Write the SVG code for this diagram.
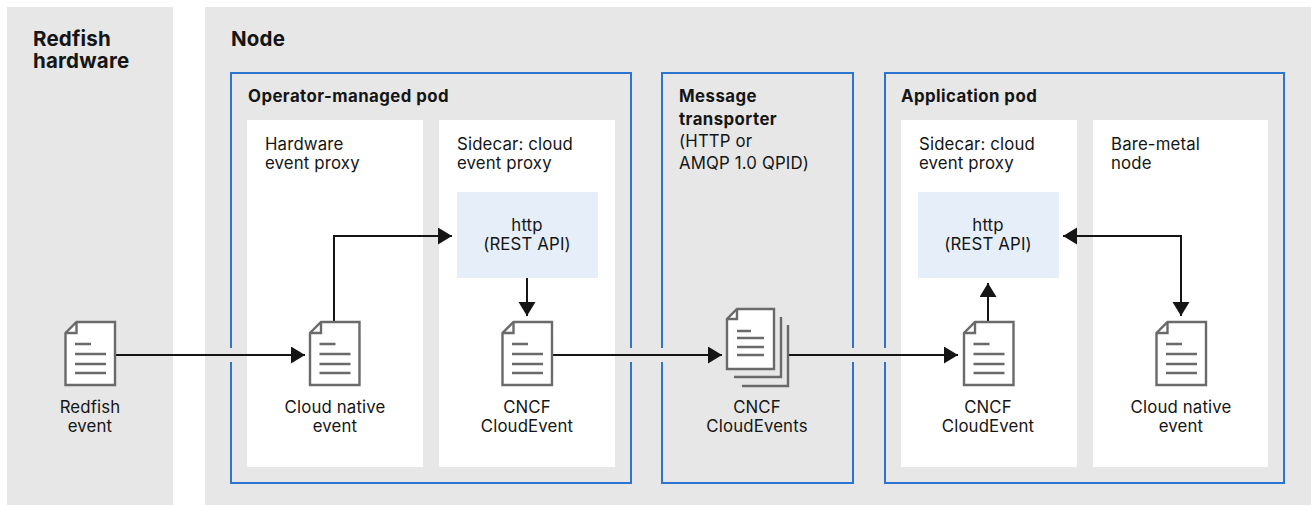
<svg xmlns="http://www.w3.org/2000/svg" width="1311" height="505" viewBox="0 0 1311 505">
<style>
text{font-family:"Inter","Open Sans","Liberation Sans",sans-serif;font-size:16.8px;letter-spacing:.15px;fill:#151515}
.h{font-size:20.5px;font-weight:700;letter-spacing:.2px}
.b{font-weight:700;letter-spacing:.45px}
.m{text-anchor:middle}
.zone{fill:#e7e7e7}
.pod{fill:none;stroke:#2b74d0;stroke-width:2}
.card{fill:#fff}
.api{fill:#e6eff9}
.wire{fill:none;stroke:#151515;stroke-width:2}
.doc{fill:#fff;stroke:#6a6a6a;stroke-width:2.4}
.ln{fill:none;stroke:#6a6a6a;stroke-width:2.4}
</style>
<defs>
<marker id="a" markerUnits="userSpaceOnUse" markerWidth="16" markerHeight="18" refX="14" refY="8.5" orient="auto-start-reverse"><path d="M0 0L14 8.5L0 17Z" fill="#151515"/></marker>
<g id="d">
<path class="doc" d="M76.5 322H115V385H65.500V333Z"/>
<path class="ln" d="M76.500 322V333H65.500"/>
<path class="ln" d="M75 344H91M75 354H106M75 364H106M75 373H106"/>
</g>
</defs>
<g id="redfish-hardware">
<rect class="zone" x="7" y="7" width="166" height="498"/>
<text class="h"><tspan x="33" y="46">Redfish</tspan><tspan x="33" y="68">hardware</tspan></text>
</g>
<g id="node">
<rect class="zone" x="205" y="7" width="1106" height="498"/>
<text class="h" x="231" y="46">Node</text>
</g>
<g id="operator-pod">
<path class="pod" d="M231 348V73H631V348M631 362V483H231V362"/>
<text class="b" x="248" y="102">Operator-managed pod</text>
</g>
<g id="message-transporter">
<path class="pod" d="M662 348V73H853V348M853 362V483H662V362"/>
<text><tspan class="b" x="679" y="102">Message</tspan><tspan class="b" x="679" y="125">transporter</tspan><tspan x="679" y="147">(HTTP or</tspan><tspan x="679" y="169">AMQP 1.0 QPID)</tspan></text>
</g>
<g id="application-pod">
<path class="pod" d="M885 348V73H1284V483H885V362"/>
<text class="b" x="901" y="102">Application pod</text>
</g>
<g id="hardware-event-proxy">
<rect class="card" x="247" y="120" width="176" height="347"/>
<text><tspan x="265" y="150">Hardware</tspan><tspan x="265" y="169">event proxy</tspan></text>
</g>
<g id="sidecar-1">
<rect class="card" x="439" y="120" width="176" height="347"/>
<text><tspan x="457" y="150">Sidecar: cloud</tspan><tspan x="457" y="169">event proxy</tspan></text>
</g>
<g id="sidecar-2">
<rect class="card" x="901" y="120" width="176" height="347"/>
<text><tspan x="919" y="150">Sidecar: cloud</tspan><tspan x="919" y="169">event proxy</tspan></text>
</g>
<g id="bare-metal-node">
<rect class="card" x="1093" y="120" width="175" height="347"/>
<text><tspan x="1111" y="150">Bare-metal</tspan><tspan x="1111" y="169">node</tspan></text>
</g>
<g id="http-1">
<rect class="api" x="457" y="192" width="141" height="86"/>
<text class="m"><tspan x="527" y="231">http</tspan><tspan x="527" y="250">(REST API)</tspan></text>
</g>
<g id="http-2">
<rect class="api" x="918" y="192" width="141" height="86"/>
<text class="m"><tspan x="988" y="231">http</tspan><tspan x="988" y="250">(REST API)</tspan></text>
</g>
<g id="connectors">
<path class="wire" marker-end="url(#a)" d="M115 355H305"/>
<path class="wire" marker-end="url(#a)" d="M334 322V236H452"/>
<path class="wire" marker-end="url(#a)" d="M527 278V316"/>
<path class="wire" marker-end="url(#a)" d="M552 355H722"/>
<path class="wire" marker-end="url(#a)" d="M789 355H958"/>
<path class="wire" marker-end="url(#a)" d="M988 322V283"/>
<path class="wire" marker-start="url(#a)" marker-end="url(#a)" d="M1063 236H1181V316"/>
</g>
<g id="redfish-event">
<use href="#d"/>
<text class="m"><tspan x="90" y="413">Redfish</tspan><tspan x="90" y="432">event</tspan></text>
</g>
<g id="cloud-native-event-1">
<use href="#d" x="244.500"/>
<text class="m"><tspan x="335" y="413">Cloud native</tspan><tspan x="335" y="432">event</tspan></text>
</g>
<g id="cncf-cloudevent-1">
<use href="#d" x="437"/>
<text class="m"><tspan x="527" y="413">CNCF</tspan><tspan x="527" y="432">CloudEvent</tspan></text>
</g>
<g id="cncf-cloudevents">
<path class="ln" d="M781 317V377H734M788 325V386H742"/>
<path class="doc" d="M737 309H774V369H727V319Z"/>
<path class="ln" d="M737 309V319H727"/>
<path class="ln" d="M737 331H751M737 338H764M737 347H764M737 355H764"/>
<text class="m"><tspan x="757" y="413">CNCF</tspan><tspan x="757" y="432">CloudEvents</tspan></text>
</g>
<g id="cncf-cloudevent-2">
<use href="#d" x="898.500"/>
<text class="m"><tspan x="988" y="413">CNCF</tspan><tspan x="988" y="432">CloudEvent</tspan></text>
</g>
<g id="cloud-native-event-2">
<use href="#d" x="1091"/>
<text class="m"><tspan x="1181" y="413">Cloud native</tspan><tspan x="1181" y="432">event</tspan></text>
</g>
</svg>
